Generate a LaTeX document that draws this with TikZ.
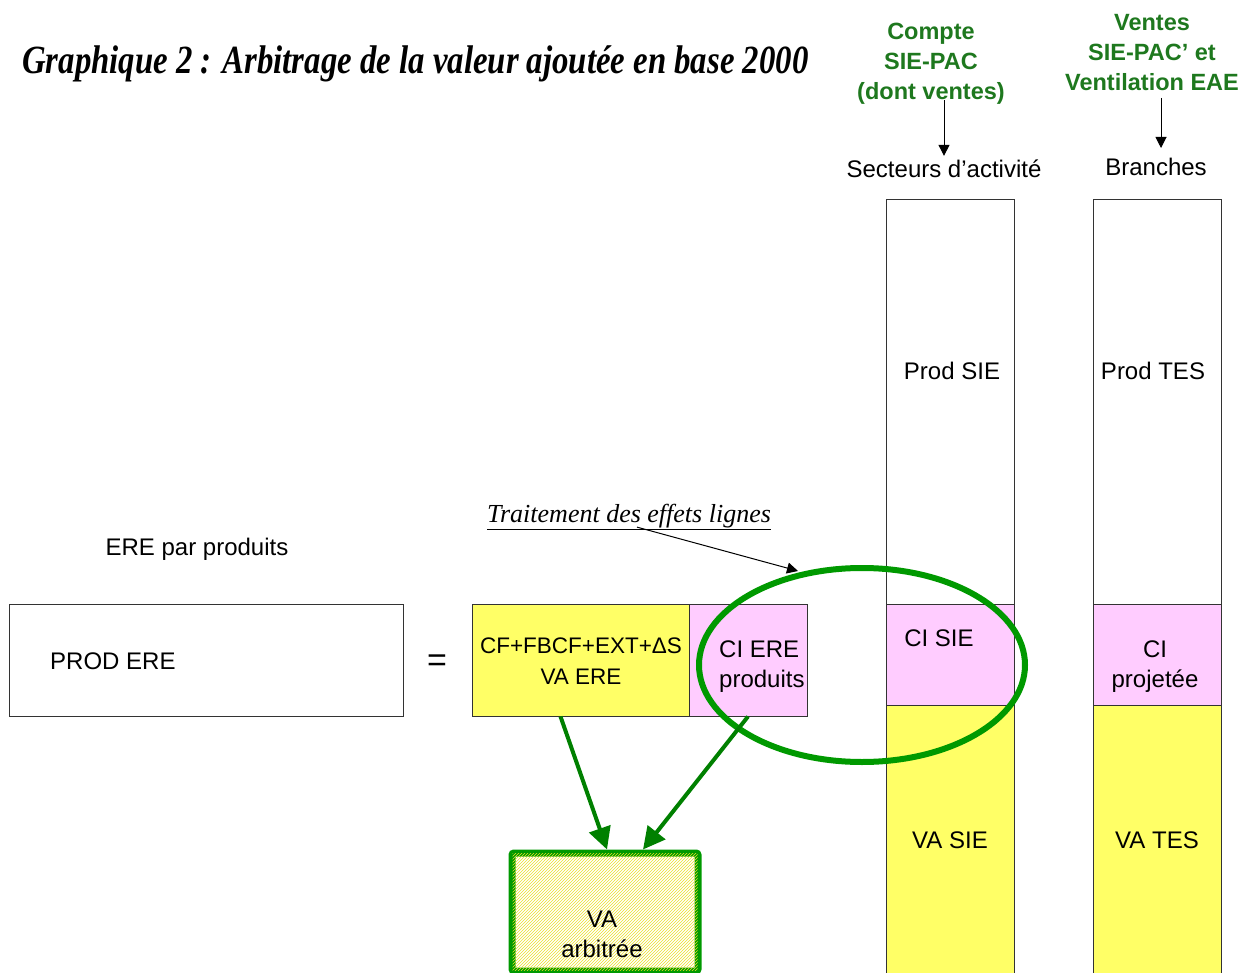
\documentclass[tikz,border=0pt]{standalone}
\usepackage{fontspec}
\setmainfont{Liberation Sans}
\newfontfamily\titlefont[FakeStretch=0.82]{Liberation Serif}
\newfontfamily\notefont{Liberation Serif}
\usetikzlibrary{arrows.meta,patterns}
\definecolor{barjaune}{RGB}{255,255,102}
\definecolor{hachure}{RGB}{235,225,40}
\definecolor{barrose}{RGB}{255,204,255}
\definecolor{vertfonce}{RGB}{0,128,0}
\definecolor{vertclair}{RGB}{0,153,0}
\definecolor{verttexte}{RGB}{30,120,30}
\tikzset{
  txt/.style={font=\fontsize{24}{30}\selectfont, inner sep=0pt, align=center},
  vert/.style={txt, font=\fontsize{23.5}{30}\selectfont\bfseries, text=verttexte},
  boite/.style={draw=black!80, line width=1pt, inner sep=0pt},
  fleche/.style={-{Triangle[length=11pt,width=11pt]}, line width=1pt},
  flechev/.style={-{Triangle[length=22pt,width=22pt]}, draw=vertfonce, line width=4pt}
}
\begin{document}
\begin{tikzpicture}[x=1pt,y=-1pt]
   \useasboundingbox (0,0) rectangle (1242,973);
   % titre
   \draw(22,64) node[anchor=west, inner sep=0pt] (titre)
     {\titlefont\fontsize{40}{44}\selectfont\bfseries\itshape Graphique 2 : Arbitrage de la valeur ajout\'ee en base 2000};
   % colonnes
   \draw(950,402) node[boite, fill=white, minimum width=128, minimum height=404] (prodsie) {};
   \draw(950,654.5) node[boite, fill=barrose, minimum width=128, minimum height=101] (cisie) {};
   \draw(950,845) node[boite, fill=barjaune, minimum width=128, minimum height=280] (vasie) {};
   \draw(1157,402) node[boite, fill=white, minimum width=128, minimum height=404] (prodtes) {};
   \draw(1157,654.5) node[boite, fill=barrose, minimum width=128, minimum height=101] (cites) {};
   \draw(1157,845) node[boite, fill=barjaune, minimum width=128, minimum height=280] (vates) {};
   \draw(952,371) node[txt] {Prod SIE};
   \draw(939,638) node[txt] {CI SIE};
   \draw(950,840) node[txt] {VA SIE};
   \draw(1153,371) node[txt] {Prod TES};
   \draw(1155,667) node[txt] {CI\\projet\'ee};
   \draw(1157,840) node[txt] {VA TES};
   % en-tetes
   \draw(931,64) node[vert] (compte) {Compte\\SIE-PAC\\(dont ventes)};
   \draw(1152,53) node[vert] (ventes) {Ventes\\SIE-PAC’ et\\Ventilation EAE};
   \draw(944,169) node[txt] (secteurs) {Secteurs d’activit\'e};
   \draw(1156,167) node[txt] (branches) {Branches};
   \coordinate (c1) at (944,100);
   \coordinate (c2) at (1161,98);
   \draw[fleche] (c1) -- ([yshift=4pt]secteurs.north -| c1);
   \draw[fleche] (c2) -- ([yshift=10pt]branches.north -| c2);
   % ERE
   \draw(197,549) node[txt] (ere) {ERE par produits};
   \draw(206,660) node[boite, fill=white, minimum width=394, minimum height=112] (prodere) {};
   \draw(50,661) node[txt, anchor=west] {PROD ERE};
   \draw(437,663) node[txt, font=\fontsize{34}{34}\selectfont] (egal) {=};
   \draw(580.5,660) node[boite, fill=barjaune, minimum width=217, minimum height=112] (vaere) {};
   \draw(581,661) node[txt, font=\fontsize{22.5}{31}\selectfont] {CF+FBCF+EXT+Δ{}S\\VA ERE};
   \draw(748,660) node[boite, fill=barrose, minimum width=118, minimum height=112] (ciere) {};
   \draw(719,667) node[txt, anchor=west, align=left] {CI ERE\\produits};
   % VA arbitree
   \draw(605,912) node[boite, draw=vertclair, line width=7pt, rounded corners=2pt,
     fill=white, minimum width=186, minimum height=118] (vaarb) {};
   \fill[pattern=north east lines, pattern color=hachure]
     (vaarb.south west) ++(4,-4) rectangle ([xshift=-4pt,yshift=-4pt]vaarb.north east);
   \draw(602,934) node[txt] {VA\\arbitr\'ee};
   % effets lignes
   \draw[draw=vertclair, line width=6pt] (862,665) ellipse [x radius=163, y radius=97];
   \draw[flechev] ([xshift=-20pt]vaere.south) -- ([xshift=2pt]vaarb.north);
   \draw[flechev] (ciere.south) -- ([xshift=38pt]vaarb.north);
   \draw(629,517) node[txt, font=\notefont\fontsize{26}{30}\selectfont\itshape] (effets)
     {\underline{Traitement des effets lignes}};
   \coordinate (pointe) at (798,571);
   \draw[fleche] (effets.south) ++(8,-3) -- (pointe);
\end{tikzpicture}
\end{document}
